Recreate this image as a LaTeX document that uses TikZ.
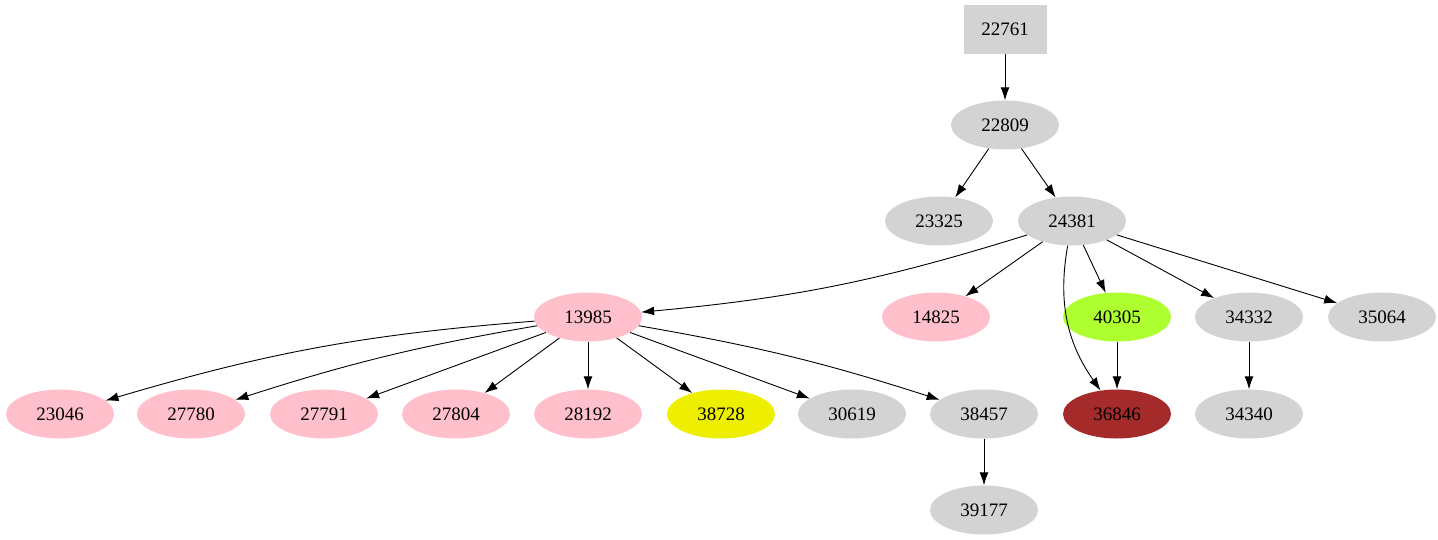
\documentclass[tikz,border=0pt]{standalone}
\usepackage{fontspec}
\setmainfont{Liberation Serif}
\usetikzlibrary{shapes.geometric,arrows.meta}
\definecolor{lg}{HTML}{D3D3D3}
\definecolor{pk}{HTML}{FFC0CB}
\definecolor{gy}{HTML}{ADFF2F}
\definecolor{yl}{HTML}{EEEE00}
\definecolor{br}{HTML}{A52A2A}
\begin{document}
\begin{tikzpicture}[x=1pt,y=-1pt,
  nd/.style={ellipse,fill=lg,minimum width=108pt,minimum height=49pt,inner sep=0pt,font=\fontsize{19}{22}\selectfont},
  bx/.style={rectangle,fill=lg,minimum width=83pt,minimum height=49pt,inner sep=0pt,font=\fontsize{19}{22}\selectfont},
  ed/.style={-{Latex[length=13pt,width=9pt]},line width=0.9pt}]
\useasboundingbox (0,0) rectangle (1438,539);
\node[bx] (n22761) at (1005,29) {22761};
\node[nd] (n22809) at (1005,125) {22809};
\node[nd] (n23325) at (939,221) {23325};
\node[nd] (n24381) at (1072,221) {24381};
\node[nd,fill=pk] (n13985) at (588,317) {13985};
\node[nd,fill=pk] (n14825) at (936,317) {14825};
\node[nd,fill=gy] (n40305) at (1117,317) {40305};
\node[nd] (n34332) at (1249,317) {34332};
\node[nd] (n35064) at (1382,317) {35064};
\node[nd,fill=pk] (n23046) at (60,414) {23046};
\node[nd,fill=pk] (n27780) at (191,414) {27780};
\node[nd,fill=pk] (n27791) at (324,414) {27791};
\node[nd,fill=pk] (n27804) at (456,414) {27804};
\node[nd,fill=pk] (n28192) at (588,414) {28192};
\node[nd,fill=yl] (n38728) at (721,414) {38728};
\node[nd] (n30619) at (852,414) {30619};
\node[nd] (n38457) at (984,414) {38457};
\node[nd,fill=br] (n36846) at (1117,414) {36846};
\node[nd] (n34340) at (1249,414) {34340};
\node[nd] (n39177) at (984,510) {39177};
\draw[ed] (n22761) -- (n22809);
\draw[ed] (n22809) -- (n23325);
\draw[ed] (n22809) -- (n24381);
\draw[ed] (n24381) to[bend left=6] (n13985);
\draw[ed] (n24381) -- (n14825);
\draw[ed] (n24381.260) to[out=260,in=125] (n36846);
\draw[ed] (n24381) -- (n40305);
\draw[ed] (n24381) -- (n34332);
\draw[ed] (n24381) -- (n35064);
\draw[ed] (n40305) -- (n36846);
\draw[ed] (n34332) -- (n34340);
\draw[ed] (n13985) to[bend right=6] (n23046);
\draw[ed] (n13985) to[bend right=4] (n27780);
\draw[ed] (n13985) -- (n27791);
\draw[ed] (n13985) -- (n27804);
\draw[ed] (n13985) -- (n28192);
\draw[ed] (n13985) -- (n38728);
\draw[ed] (n13985) -- (n30619);
\draw[ed] (n13985) to[bend left=4] (n38457);
\draw[ed] (n38457) -- (n39177);
\end{tikzpicture}
\end{document}
